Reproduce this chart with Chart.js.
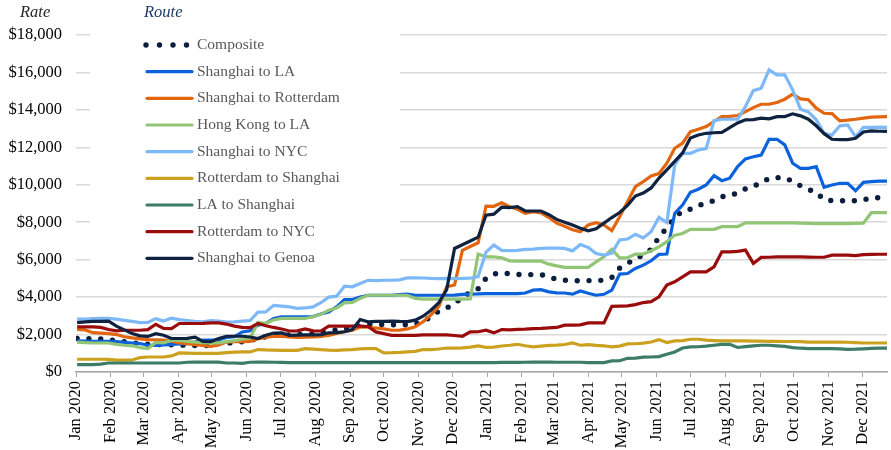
<!DOCTYPE html>
<html>
<head>
<meta charset="utf-8">
<script src="https://cdn.jsdelivr.net/npm/chart.js@4.4.1/dist/chart.umd.min.js"></script>
<style>
  html, body { margin: 0; padding: 0; background: #fff; }
  #wrap { width: 891px; height: 450px; position: relative; }
</style>
</head>
<body>
<div id="wrap"><canvas id="rateChart"></canvas></div>
<script>
// Weekly container rates, first reading Thu 2 Jan 2020, one per week
const firstWeekDay = 1; // days after 1 Jan 2020
const weekStep = 7;

const monthLabels = [
  'Jan 2020', 'Feb 2020', 'Mar 2020', 'Apr 2020', 'May 2020', 'Jun 2020',
  'Jul 2020', 'Aug 2020', 'Sep 2020', 'Oct 2020', 'Nov 2020', 'Dec 2020',
  'Jan 2021', 'Feb 2021', 'Mar 2021', 'Apr 2021', 'May 2021', 'Jun 2021',
  'Jul 2021', 'Aug 2021', 'Sep 2021', 'Oct 2021', 'Nov 2021', 'Dec 2021'
];

const routeNames = [
  'Composite', 'Shanghai to LA', 'Shanghai to Rotterdam', 'Hong Kong to LA',
  'Shanghai to NYC', 'Rotterdam to Shanghai', 'LA to Shanghai',
  'Rotterdam to NYC', 'Shanghai to Genoa'
];

const routeColors = [
  '#0c1e3d', '#0b62dc', '#e2660f', '#93c576',
  '#7db9f8', '#cba21f', '#3d7c67', '#9a0c0c', '#0f2340'
];

const composite = [
  1790,1790,1780,1760,1720,1690,1620,1560,1520,1480,
  1470,1460,1450,1440,1430,1410,1390,1450,1520,1540,
  1570,1620,1680,1800,1880,1960,1970,1980,2000,2010,
  2020,2100,2190,2250,2300,2370,2480,2540,2540,2530,
  2520,2520,2530,2570,2700,2950,3250,3420,3650,4000,
  4250,4450,5000,5230,5300,5250,5210,5210,5200,5200,
  5080,4950,4900,4880,4870,4880,4890,4900,5050,5550,
  5800,6050,6250,6550,7200,7700,8250,8600,8700,8880,
  9050,9150,9360,9450,9550,9780,9920,10100,10350,10380,
  10380,10180,9950,9750,9600,9200,9150,9150,9150,9150,
  9200,9300,9310,9310
];

const shanghaiLA = [
  1660,1650,1640,1640,1640,1620,1580,1550,1520,1430,
  1420,1450,1480,1500,1520,1600,1700,1700,1720,1850,
  1880,2140,2200,2500,2600,2860,2940,2940,2940,2940,
  2960,3100,3210,3480,3870,3870,4010,4100,4100,4100,
  4100,4130,4160,4100,4100,4100,4100,4100,4110,4150,
  4160,4170,4190,4190,4190,4190,4190,4220,4370,4400,
  4280,4230,4220,4160,4330,4210,4100,4150,4370,5230,
  5260,5530,5710,5940,6280,6300,8470,8920,9600,9760,
  9990,10490,10220,10350,10970,11380,11500,11590,12430,12430,
  12130,11150,10880,10880,10970,9870,9990,10080,10080,9680,
  10130,10170,10190,10200
];

const shanghaiRotterdam = [
  2270,2250,2100,2080,2050,2000,1880,1820,1770,1730,
  1720,1700,1650,1560,1520,1460,1420,1370,1450,1600,
  1620,1620,1640,1780,1850,1910,1900,1880,1850,1860,
  1880,1900,1960,2060,2150,2230,2400,2390,2350,2300,
  2230,2240,2300,2410,2680,3050,3500,4550,4650,6500,
  6700,6900,8860,8850,9040,8830,8690,8470,8560,8500,
  8250,7950,7780,7600,7490,7850,7970,7850,7550,8290,
  9100,9900,10170,10470,10600,11150,11950,12220,12840,12970,
  13110,13380,13640,13650,13700,13910,14120,14300,14300,14390,
  14570,14840,14590,14540,14090,13820,13800,13410,13450,13500,
  13560,13610,13630,13640
];

const hongKongLA = [
  1600,1570,1550,1550,1550,1480,1430,1400,1300,1250,
  1580,1560,1700,1680,1640,1600,1570,1560,1560,1620,
  1680,1750,1800,2650,2600,2780,2860,2860,2860,2860,
  2950,3080,3300,3420,3690,3720,3930,4100,4100,4100,
  4100,4100,4100,3930,3890,3890,3890,3890,3890,3890,
  3900,6300,6150,6150,6100,5940,5920,5920,5920,5920,
  5760,5670,5590,5590,5590,5590,5880,6150,6550,6100,
  6100,6300,6300,6470,6690,6960,7310,7400,7620,7620,
  7620,7620,7760,7760,7760,7970,7970,7970,7970,7970,
  7970,7970,7950,7940,7930,7930,7930,7930,7930,7940,
  7950,8510,8510,8510
];

const shanghaiNYC = [
  2820,2830,2850,2860,2860,2820,2760,2700,2640,2650,
  2850,2720,2880,2800,2750,2700,2680,2750,2720,2660,
  2680,2720,2750,3200,3210,3560,3520,3480,3400,3420,
  3480,3700,4000,4050,4580,4550,4730,4900,4880,4900,
  4900,4920,5030,5030,5020,5000,4990,5000,4990,5000,
  5010,5100,6400,6780,6500,6480,6500,6550,6560,6600,
  6620,6620,6600,6470,6810,6650,6330,6240,6350,7050,
  7100,7350,7160,7490,8260,7980,11060,11680,11680,11860,
  11930,13430,13500,13500,13500,14180,15030,15160,16140,15870,
  15870,15070,14040,13890,13470,12750,12660,13150,13200,12570,
  13070,13070,13080,13070
];

const rotterdamShanghai = [
  680,680,680,680,670,630,630,640,770,800,
  800,800,860,1020,1010,1000,1000,1000,1000,1030,
  1060,1070,1070,1200,1180,1170,1160,1160,1160,1250,
  1220,1190,1170,1160,1180,1200,1230,1250,1250,1020,
  1030,1050,1080,1100,1200,1200,1230,1280,1280,1290,
  1330,1390,1320,1330,1390,1430,1480,1400,1340,1380,
  1420,1440,1470,1550,1430,1460,1420,1400,1340,1380,
  1500,1510,1540,1600,1730,1570,1660,1680,1750,1750,
  1700,1680,1660,1660,1660,1660,1650,1650,1640,1640,
  1630,1630,1620,1600,1600,1600,1600,1600,1590,1570,
  1550,1550,1550,1550
];

const laShanghai = [
  390,390,390,420,480,480,480,480,480,480,
  480,480,480,480,520,530,530,530,530,480,
  480,460,520,530,530,520,510,500,500,500,
  500,500,500,500,500,500,500,500,500,500,
  500,500,500,500,500,500,500,500,500,500,
  500,500,500,500,510,510,510,520,530,530,
  530,520,520,520,520,500,500,500,590,600,
  730,740,790,800,820,950,1070,1280,1340,1350,
  1380,1430,1480,1480,1310,1360,1400,1430,1430,1400,
  1370,1300,1270,1250,1250,1250,1250,1230,1210,1220,
  1240,1260,1270,1280
];

const rotterdamNYC = [
  2410,2410,2410,2380,2270,2200,2230,2230,2230,2260,
  2550,2330,2320,2590,2590,2590,2600,2620,2620,2560,
  2450,2380,2370,2590,2470,2380,2300,2190,2200,2300,
  2200,2190,2450,2450,2450,2450,2450,2430,2140,2050,
  1960,1960,1960,1960,1980,1980,1980,1980,1950,1910,
  2140,2150,2230,2090,2270,2250,2280,2290,2320,2330,
  2360,2380,2500,2500,2520,2620,2620,2620,3510,3520,
  3530,3600,3710,3760,4010,4640,4820,5080,5350,5350,
  5350,5620,6420,6420,6440,6510,5800,6120,6130,6150,
  6150,6150,6150,6140,6130,6130,6240,6240,6240,6220,
  6270,6280,6290,6290
];

const shanghaiGenoa = [
  2640,2680,2700,2700,2720,2450,2250,2050,1930,1900,
  2050,1960,1790,1790,1800,1860,1640,1620,1790,1910,
  1910,1910,1870,1790,1960,2080,2090,1960,1970,1980,
  1980,1990,2090,2100,2150,2270,2800,2680,2700,2700,
  2720,2700,2690,2770,2980,3300,3700,4400,6600,6800,
  7000,7200,8380,8430,8800,8780,8830,8610,8600,8600,
  8400,8150,8000,7850,7680,7540,7650,7950,8250,8520,
  8900,9400,9560,9830,10360,10800,11250,11700,12500,12660,
  12750,12780,12800,13050,13300,13470,13480,13560,13520,13640,
  13640,13790,13680,13500,13150,12730,12430,12410,12410,12480,
  12820,12880,12860,12850
];

const seriesValues = [
  composite, shanghaiLA, shanghaiRotterdam, hongKongLA, shanghaiNYC,
  rotterdamShanghai, laShanghai, rotterdamNYC, shanghaiGenoa
];

// Chart

const serifFont = "'Liberation Serif', 'Times New Roman', serif";

const monthDays = monthLabels.map((label, i) =>
  (Date.UTC(2020 + Math.floor(i / 12), i % 12, 1) - Date.UTC(2020, 0, 1)) / 864e5
);

function toPoints(values) {
  return values.map((v, i) => ({ x: firstWeekDay + i * weekStep, y: v }));
}

const lastDay = firstWeekDay + (composite.length - 1) * weekStep;

const datasets = routeNames.map((name, i) => {
  const ds = {
    label: name,
    data: toPoints(seriesValues[i]),
    borderColor: routeColors[i],
    backgroundColor: routeColors[i],
    borderWidth: 3.2,
    pointRadius: 0,
    tension: 0,
    fill: false,
    order: routeNames.length - i,
  };
  if (i === 0) {
    ds.borderWidth = 5.4;
    ds.borderDash = [0, 11.8];
    ds.borderCapStyle = 'round';
  }
  return ds;
});

const routeLegend = {
  id: 'routeLegend',
  beforeDatasetsDraw(chart) {
    const ctx = chart.ctx;
    ctx.save();

    ctx.fillStyle = '#ffffff';
    ctx.fillRect(90, 0, 310, 272);

    ctx.textBaseline = 'middle';
    ctx.font = 'italic 16.5px ' + serifFont;
    ctx.fillStyle = '#262626';
    ctx.fillText('Rate', 20, 13);
    ctx.fillStyle = '#1f3864';
    ctx.fillText('Route', 144, 13);

    ctx.font = '15.5px ' + serifFont;
    chart.data.datasets.forEach((ds, i) => {
      const y = 45 + i * 26.67;
      if (i === 0) {
        ctx.fillStyle = ds.borderColor;
        [146, 159.5, 173, 186.5].forEach(x => {
          ctx.beginPath();
          ctx.arc(x, y, 2.7, 0, Math.PI * 2);
          ctx.fill();
        });
      } else {
        ctx.strokeStyle = ds.borderColor;
        ctx.lineWidth = 3.2;
        ctx.lineCap = 'round';
        ctx.beginPath();
        ctx.moveTo(147, y);
        ctx.lineTo(192, y);
        ctx.stroke();
      }
      ctx.fillStyle = '#595959';
      ctx.fillText(ds.label, 197, y);
    });

    ctx.restore();
  }
};

new Chart(document.getElementById('rateChart'), {
  type: 'line',
  data: { datasets: datasets },
  options: {
    responsive: true,
    maintainAspectRatio: false,
    animation: false,
    devicePixelRatio: 1,
    layout: { padding: { top: 35, right: 4, left: 0, bottom: 0 } },
    plugins: {
      legend: { display: false },
      tooltip: { enabled: false },
    },
    scales: {
      x: {
        type: 'linear',
        min: 0,
        max: lastDay,
        afterBuildTicks: axis => { axis.ticks = monthDays.map(d => ({ value: d })); },
        afterFit: axis => { axis.height = 78; },
        ticks: {
          autoSkip: false,
          minRotation: 90,
          maxRotation: 90,
          padding: 4,
          color: '#000000',
          font: { family: serifFont, size: 16.5 },
          callback: (value, index) => monthLabels[index],
        },
        grid: {
          drawOnChartArea: false,
          drawTicks: true,
          tickLength: 5,
          color: '#a6a6a6',
        },
        border: { display: true, color: '#a6a6a6', width: 1.5 },
      },
      y: {
        min: 0,
        max: 18000,
        afterFit: axis => { axis.width = 76; },
        ticks: {
          stepSize: 2000,
          padding: 14,
          color: '#000000',
          font: { family: serifFont, size: 16.5 },
          callback: value => '$' + value.toLocaleString('en-US'),
        },
        grid: { color: '#d9d9d9', lineWidth: 1.5, drawTicks: false },
        border: { display: false },
      },
    },
  },
  plugins: [routeLegend],
});
</script>
</body>
</html>
